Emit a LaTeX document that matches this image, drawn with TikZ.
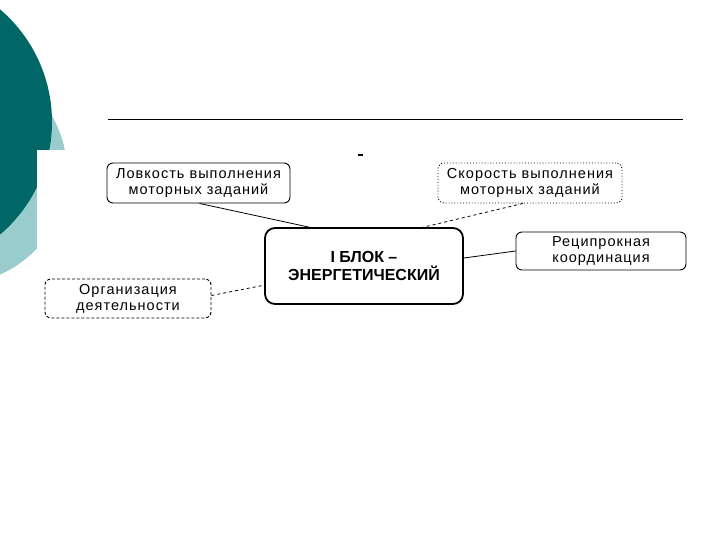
\documentclass[tikz,border=0pt]{standalone}
\usepackage{fontspec}
\setmainfont{Liberation Sans}
\newfontfamily\widefont[LetterSpace=7]{Liberation Sans}
\definecolor{darkteal}{RGB}{0,102,102}
\definecolor{lightteal}{RGB}{153,204,204}
\tikzset{
  box/.style={draw=black, line width=0.9pt, rounded corners=6pt, align=center, font=\widefont\fontsize{14.5}{16}\selectfont, inner sep=0pt},
  conn/.style={line width=0.8pt},
}
\begin{document}
\begin{tikzpicture}[x=1pt,y=-1pt]
\useasboundingbox (0,0) rectangle (720,540);
\fill[white] (0,0) rectangle (720,540);
% background decoration
\begin{scope}
\clip (0,0) rectangle (720,540);
\fill[lightteal] (-45,172) circle[radius=112];
\fill[darkteal] (-96,122) circle[radius=148];
\fill[white] (37,150) rectangle (720,540);
\end{scope}
% title rule
\draw[line width=1pt] (108,120) -- (683,120);
\fill[black] (358,154) rectangle (363,156);
% boxes
\node[box, minimum width=183pt, minimum height=40pt] (lov) at (198.5,183) {Ловкость выполнения\\моторных заданий};
\node[box, dotted, minimum width=184pt, minimum height=40pt] (sko) at (530,183) {Скорость выполнения\\моторных заданий};
\node[box, line width=1.8pt, rounded corners=10pt, minimum width=198pt, minimum height=76pt, font=\bfseries\fontsize{16}{18}\selectfont] (blok) at (364,266) {I БЛОК –\\ЭНЕРГЕТИЧЕСКИЙ};
\node[box, minimum width=170pt, minimum height=38pt] (rec) at (601,251) {Реципрокная\\координация};
\node[box, densely dashed, minimum width=166pt, minimum height=39pt] (org) at (128,298.5) {Организация\\деятельности};
% connectors
\draw[conn] (lov.south) ++(1,0) -- (313,228);
\draw[conn, dashed] (sko.south) ++(-7,0) -- (420,228);
\draw[conn] (blok.east) ++(0,-8) -- (rec.west);
\draw[conn, dashed] (org.east) ++(0,-3) -- (265,285);
\end{tikzpicture}
\end{document}
